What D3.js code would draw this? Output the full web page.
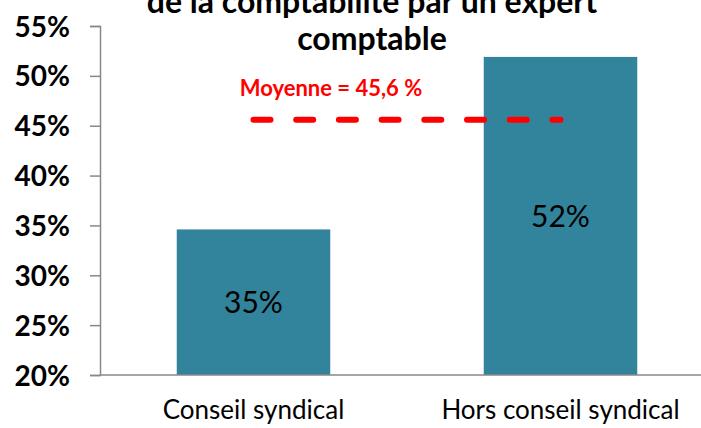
<!DOCTYPE html>
<html><head><meta charset="utf-8">
<script src="https://cdn.jsdelivr.net/npm/d3@7"></script>
<style>body{margin:0;background:#fff;overflow:hidden}</style>
</head><body>
<svg id="c" width="701" height="428"></svg>
<script>
const categories = ["Conseil syndical", "Hors conseil syndical"];
const values = [0.346, 0.519];
const labels = ["35%", "52%"];
const average = 0.456;
const averageLabel = "Moyenne = 45,6 %";
const yTicks = [0.20, 0.25, 0.30, 0.35, 0.40, 0.45, 0.50, 0.55];
const titleLines = ["de la comptabilité par un expert", "comptable"];

const svg = d3.select("#c");
const font = "Lato, 'Open Sans', sans-serif";
const x = d3.scaleBand().domain(categories).range([100, 714]).paddingInner(0.5).paddingOuter(0.25);
const y = d3.scaleLinear().domain([0.20, 0.55]).range([375, 26]);

// title
svg.append("g").selectAll("text").data(titleLines).join("text")
  .attr("x", 372).attr("y", (d, i) => 13 + i * 37)
  .attr("text-anchor", "middle").attr("font-family", font).attr("font-weight", "bold")
  .attr("font-size", 32).attr("fill", "#000").text(d => d);

// bars
svg.append("g").selectAll("rect").data(values).join("rect")
  .attr("x", (d, i) => x(categories[i])).attr("width", x.bandwidth())
  .attr("y", d => y(d)).attr("height", d => y(0.20) - y(d))
  .attr("fill", "#31849B");

// data labels
svg.append("g").selectAll("text").data(values).join("text")
  .attr("x", (d, i) => x(categories[i]) + x.bandwidth() / 2)
  .attr("y", d => (y(d) + y(0.20)) / 2).attr("dy", "0.36em")
  .attr("text-anchor", "middle").attr("font-family", font).attr("font-size", 30)
  .attr("fill", "#000").text((d, i) => labels[i]);

// y axis
const yAxis = d3.axisLeft(y).tickValues(yTicks).tickFormat(d3.format(".0%")).tickSize(10).tickPadding(20);
const ya = svg.append("g").attr("transform", "translate(100,0)").call(yAxis);
ya.select(".domain").attr("stroke", "#888").attr("stroke-width", 1.5);
ya.selectAll(".tick line").attr("stroke", "#888").attr("stroke-width", 1.5);
ya.selectAll(".tick text").attr("font-family", font).attr("font-weight", "bold")
  .attr("font-size", 28).attr("fill", "#000").attr("dy", "0.36em");

// x axis
const xAxis = d3.axisBottom(x).tickSize(0).tickPadding(26);
const xa = svg.append("g").attr("transform", "translate(0,375)").call(xAxis);
xa.select(".domain").attr("d", "M100,0H701").attr("stroke", "#888").attr("stroke-width", 1.5);
xa.selectAll(".tick text").attr("font-family", font).attr("font-size", 26).attr("fill", "#000");

// average line
const c1 = x(categories[0]) + x.bandwidth() / 2, c2 = x(categories[1]) + x.bandwidth() / 2;
svg.append("line").attr("x1", c1).attr("x2", c2).attr("y1", y(average)).attr("y2", y(average))
  .attr("stroke", "#ff0000").attr("stroke-width", 6).attr("stroke-linecap", "round")
  .attr("stroke-dasharray", "17 25.7");
svg.append("text").attr("x", 331).attr("y", 96).attr("text-anchor", "middle")
  .attr("font-family", font).attr("font-weight", "bold").attr("font-size", 22)
  .attr("fill", "#ff0000").text(averageLabel);
</script>
</body></html>
